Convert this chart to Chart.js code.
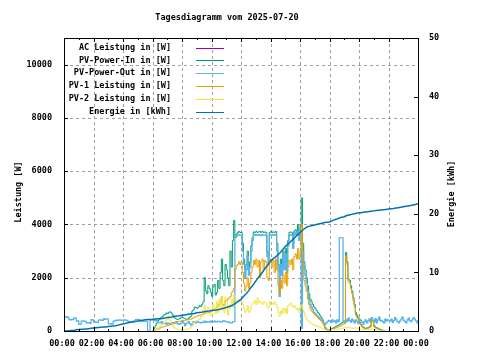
<!DOCTYPE html>
<html><head><meta charset="utf-8">
<script src="https://cdn.jsdelivr.net/npm/chart.js@4.4.1/dist/chart.umd.min.js"></script>
<style>html,body{margin:0;padding:0;background:#fff}canvas{display:block}</style>
</head><body>
<canvas id="c" width="480" height="360"></canvas>
<script>
// ---------- data ----------
const chartTitle = 'Tagesdiagramm vom 2025-07-20';
const xTickValues = [0,2,4,6,8,10,12,14,16,18,20,22,24];
const xTickLabels = ['00:00','02:00','04:00','06:00','08:00','10:00','12:00','14:00','16:00','18:00','20:00','22:00','00:00'];
const leftTicks = [0,2000,4000,6000,8000,10000];
const rightTicks = [0,10,20,30,40,50];
const seriesNames = ['AC Leistung in [W]','PV-Power-In in [W]','PV-Power-Out in [W]','PV-1 Leistung in [W]','PV-2 Leistung in [W]','Energie in [kWh]'];
const N = null;

// sampling grids
const pvStartHour = 6;      // PV series: 5-minute samples from 06:00 to 22:00
const pvStepMin = 5;
const outStepMin = 5;       // PV-Power-Out: 5-minute samples, full day
const energyStepMin = 10;   // Energie: 10-minute samples, full day

// PV-Power-In [W], 06:00..22:00, one row per hour
const pvPowerIn = [
 0,100,200,300,380,420,480,520,560,600,620,680,
 650,700,720,680,600,520,480,450,430,450,470,520,
 500,480,460,440,450,480,520,560,750,800,900,880,
 850,900,950,920,1000,1100,2000,1500,1400,1700,1600,1450,
 1300,1650,1750,1350,1450,1900,1600,2200,2700,1900,1700,2500,
 2300,2000,1700,3000,2400,3400,4150,3500,3650,3700,3740,3700,
 3700,3300,2700,2300,2500,3000,2400,2600,3200,3500,3720,3700,
 3740,3700,3720,3740,3700,3740,3700,3720,3700,3000,2800,3700,
 3740,3700,3720,3700,3740,3300,2500,2200,2700,2400,3000,2600,
 3100,2500,3400,3700,3720,3700,3300,3750,3800,3700,4000,3600,
 3900,5000,3300,2600,2300,2000,1700,1400,1200,1100,1000,900,
 850,780,700,650,580,500,420,300,150,80,50,40,
 60,80,100,120,150,180,200,220,250,280,320,350,
 350,2950,2600,1950,1900,1700,1500,1250,1000,700,600,500,
 350,250,180,150,120,100,110,130,150,200,500,400,
 200,150,120,100,80,60,40,30,15,0,N,N,
 N];

// PV-1 Leistung [W], 06:00..22:00
const pv1Power = [
 0,20,40,60,80,100,120,140,150,160,180,190,
 200,215,230,250,280,300,320,340,350,360,370,375,
 380,390,400,410,420,425,430,450,470,500,520,540,
 560,580,600,610,620,640,650,700,700,680,700,720,
 750,780,800,850,900,950,1000,1100,1300,1000,950,1150,
 1150,1200,1250,1300,1450,1500,1600,2300,2450,2500,2600,2500,
 2600,2200,1800,1500,1700,2000,1600,1800,2200,2400,2650,2500,
 2700,2400,2650,2000,2600,2700,2300,2650,2600,2000,1900,2600,
 2700,2400,2650,2200,2700,2300,1700,1400,1900,1600,2100,1800,
 2200,1700,2400,2650,2500,2700,2300,2800,2900,2700,3100,2700,
 3000,4000,2500,1900,1700,1500,1200,1000,850,750,700,650,
 600,550,500,450,420,380,300,200,100,50,30,20,
 40,60,70,90,100,120,140,160,180,200,230,260,
 280,2830,2500,1850,1800,1600,1400,1150,900,600,500,450,
 300,220,150,120,90,70,80,100,120,160,430,350,
 150,110,90,70,50,40,25,20,10,0,N,N,
 N];

// PV-2 Leistung [W], 06:00..22:00
const pv2Power = [
 0,30,60,100,130,150,200,220,250,300,350,420,
 450,480,400,300,200,150,100,80,60,60,50,50,
 50,60,60,70,70,80,100,150,200,300,350,380,
 380,420,450,600,550,800,950,700,650,900,800,600,
 600,1000,900,650,1100,700,1200,800,1300,900,700,1250,
 1100,600,800,1000,1200,900,1350,1150,1150,1150,1100,1180,
 1100,1000,850,700,750,950,700,750,950,1050,1050,1150,
 1000,1250,1050,1100,1050,1000,1100,1050,1050,900,850,1100,
 1000,1050,1000,1100,1000,900,700,550,750,650,850,700,
 850,650,950,1000,1050,950,900,950,850,800,850,700,
 900,1000,800,700,550,450,400,350,300,280,250,220,
 200,180,160,150,140,120,100,70,50,30,30,30,
 40,45,50,55,60,65,70,75,80,90,100,110,
 120,120,130,130,120,110,110,100,110,120,100,90,
 80,70,60,50,50,50,55,60,65,70,80,60,
 50,40,35,30,25,20,15,10,5,0,N,N,
 N];

// AC Leistung [W], 06:00..22:00 (mostly hidden under PV-Power-Out)
const acPower = [
 405,430,380,400,330,300,300,350,280,300,300,250,
 300,280,250,300,320,280,300,350,280,250,270,300,
 380,300,200,280,300,350,280,220,250,350,320,300,
 350,330,320,300,330,320,370,330,350,340,330,370,
 330,350,370,340,340,360,360,340,340,380,380,350,
 350,330,330,300,300,350,350,3550,3550,3720,3620,3600,
 3600,3000,2500,2000,2300,2800,2100,2400,3000,3400,3620,3600,
 3620,3600,3620,3600,3580,3620,3600,3600,3580,2800,2500,3600,
 3620,3600,3620,3600,3620,3000,2300,1300,2500,2100,2800,2300,
 2900,2200,3200,3600,3620,3600,3100,3620,3700,3600,3750,3400,
 3700,100,3000,2400,2100,1800,1500,1200,1000,900,800,700,
 650,600,550,500,450,400,350,300,250,300,350,400,
 380,320,420,350,380,300,420,350,3500,3500,3500,380,
 300,420,350,480,400,330,450,380,300,420,360,280,
 450,400,330,250,350,420,300,380,450,320,500,400,
 350,470,300,420,520,380,400,350,300,450,380,420,
 400];

// PV-Power-Out [W], 00:00..24:00, one row per hour
const pvPowerOut = [
 530,520,540,500,430,420,440,430,495,480,370,380,
 245,260,370,380,370,360,305,320,305,290,430,420,
 330,340,330,320,410,420,410,400,455,440,455,460,
 270,280,270,260,370,380,410,400,410,420,410,400,
 410,420,410,400,345,350,345,340,370,380,430,440,
 430,420,370,360,370,380,370,360,0,0,405,410,
 405,430,380,400,330,300,300,350,280,300,300,250,
 300,280,250,300,320,280,300,350,280,250,270,300,
 380,300,200,280,300,350,280,220,250,350,320,300,
 350,330,320,300,330,320,370,330,350,340,330,370,
 330,350,370,340,340,360,360,340,340,380,380,350,
 350,330,330,300,300,350,350,3550,3550,3600,3620,3600,
 3600,3000,2500,2000,2300,2800,2100,2400,3000,3400,3620,3600,
 3620,3600,3620,3600,3580,3620,3600,3600,3580,2800,2500,3600,
 3620,3600,3620,3600,3620,3000,2300,1300,2500,2100,2800,2300,
 2900,2200,3200,3600,3620,3600,3100,3620,3700,3600,3750,3400,
 3700,100,3000,2400,2100,1800,1500,1200,1000,900,800,700,
 650,600,550,500,450,400,350,300,250,300,350,400,
 380,320,420,350,380,300,420,350,3500,3500,3500,380,
 300,420,350,480,400,330,450,380,300,420,360,280,
 450,400,330,250,350,420,300,380,450,320,500,400,
 350,470,300,420,520,380,400,350,300,450,380,420,
 400,380,450,320,400,500,420,350,300,380,450,520,
 400,350,300,420,480,380,350,420,500,450,380,300,
 400];

// Energie [kWh], 00:00..24:00, 10-minute samples, one row per 2 hours
const energyKWh = [
 0,0,0.05,0.1,0.1,0.2,0.25,0.3,0.3,0.35,0.4,0.45,
 0.5,0.55,0.6,0.65,0.7,0.7,0.75,0.8,0.85,0.9,1.0,1.1,
 1.2,1.3,1.4,1.5,1.55,1.6,1.7,1.8,1.85,1.9,1.95,1.96,
 2.0,2.05,2.1,2.1,2.15,2.2,2.3,2.35,2.4,2.5,2.55,2.6,
 2.7,2.75,2.8,2.9,2.95,3.0,3.1,3.15,3.2,3.3,3.35,3.4,
 3.5,3.55,3.6,3.66,3.75,3.9,4.0,4.15,4.3,4.5,4.8,5.1,
 5.4,5.9,6.3,6.8,7.4,7.9,8.5,9.1,9.6,10.2,10.8,11.3,
 11.9,12.3,12.6,13.0,13.4,13.9,14.4,14.8,15.2,15.6,16.0,16.4,
 16.8,17.2,17.5,17.8,17.9,18.0,18.1,18.2,18.3,18.4,18.5,18.55,
 18.6,18.8,19.0,19.1,19.3,19.4,19.5,19.7,19.8,19.9,20.0,20.1,
 20.2,20.2,20.3,20.3,20.4,20.45,20.5,20.55,20.6,20.65,20.7,20.75,
 20.8,20.85,20.9,21.0,21.05,21.1,21.2,21.3,21.35,21.4,21.5,21.6,
 21.7];

// ---------- styling ----------
const colors = ['#9400d3','#009e73','#56b4e9','#e69f00','#f0e442','#0072b2'];
const lineColors = ['rgba(148,0,211,0.25)','#009e73','#56b4e9','#e69f00','#f0e442','#0072b2'];
const widths = [0.6, 1, 1.2, 1, 1, 1.5];
const FONT = '"DejaVu Sans Mono", monospace';
const FS = 8.5;
const FW = 'bold';

const toPoints = (arr, startHour, stepMin) => arr.map((v,i)=>({x: startHour + i*stepMin/60, y: v}));

const seriesDefs = [
  {data: toPoints(acPower, pvStartHour, pvStepMin), axis: 'y'},
  {data: toPoints(pvPowerIn, pvStartHour, pvStepMin), axis: 'y'},
  {data: toPoints(pvPowerOut, 0, outStepMin), axis: 'y'},
  {data: toPoints(pv1Power, pvStartHour, pvStepMin), axis: 'y'},
  {data: toPoints(pv2Power, pvStartHour, pvStepMin), axis: 'y'},
  {data: toPoints(energyKWh, 0, energyStepMin), axis: 'y2'}
];

const datasets = seriesDefs.map((d,k)=>({
  label: seriesNames[k],
  data: d.data,
  borderColor: lineColors[k],
  backgroundColor: colors[k],
  borderWidth: widths[k],
  pointRadius: 0,
  stepped: k===5 ? false : true,
  fill: false,
  yAxisID: d.axis,
  order: 6-k
}));

const gnuplotLook = {
  id: 'gnuplotLook',
  beforeDatasetsDraw(chart){
    const {ctx, chartArea:a, scales} = chart;
    ctx.save();
    ctx.strokeStyle = '#a0a0a0';
    ctx.lineWidth = 1;
    ctx.setLineDash([3,3]);
    ctx.beginPath();
    xTickValues.slice(1,-1).forEach(v=>{
      const px = Math.round(scales.x.getPixelForValue(v))+0.5;
      ctx.moveTo(px,a.top); ctx.lineTo(px,a.bottom);
    });
    leftTicks.slice(1).forEach(v=>{
      const py = Math.round(scales.y.getPixelForValue(v))+0.5;
      ctx.moveTo(a.left,py); ctx.lineTo(a.right,py);
    });
    ctx.stroke();
    ctx.restore();
  },
  afterDatasetsDraw(chart){
    const {ctx, chartArea:a, scales} = chart;
    ctx.save();
    ctx.strokeStyle = '#000';
    ctx.lineWidth = 1;
    ctx.setLineDash([]);
    ctx.beginPath();
    leftTicks.forEach(v=>{
      const py = Math.round(scales.y.getPixelForValue(v))+0.5;
      ctx.moveTo(a.left,py); ctx.lineTo(a.left+4,py);
    });
    rightTicks.forEach(v=>{
      const py = Math.round(scales.y2.getPixelForValue(v))+0.5;
      ctx.moveTo(a.right,py); ctx.lineTo(a.right-4,py);
    });
    for (let h=0; h<=24; h++){
      const px = Math.round(scales.x.getPixelForValue(h))+0.5;
      const len = h%2===0 ? 4 : 2;
      ctx.moveTo(px,a.bottom); ctx.lineTo(px,a.bottom-len);
      ctx.moveTo(px,a.top); ctx.lineTo(px,a.top+len);
    }
    ctx.stroke();
    ctx.strokeRect(Math.round(a.left)+0.5, Math.round(a.top)+0.5, Math.round(a.right-a.left), Math.round(a.bottom-a.top));

    ctx.fillStyle = '#000';
    ctx.font = FW+' '+FS+'px '+FONT;
    ctx.textAlign = 'center';
    ctx.textBaseline = 'middle';
    ctx.fillText(chartTitle, 227, 17.5);

    ctx.save();
    ctx.translate(19, 192);
    ctx.rotate(-Math.PI/2);
    ctx.fillText('Leistung [W]', 0, 0);
    ctx.restore();
    ctx.save();
    ctx.translate(452, 194);
    ctx.rotate(-Math.PI/2);
    ctx.fillText('Energie [kWh]', 0, 0);
    ctx.restore();

    ctx.textAlign = 'right';
    seriesNames.forEach((name,k)=>{
      const yy = 47.5 + k*12.8;
      ctx.fillStyle = '#000';
      ctx.fillText(name, 171, yy);
      ctx.strokeStyle = colors[k];
      ctx.lineWidth = 1;
      ctx.beginPath();
      ctx.moveTo(196, Math.round(yy)+0.5);
      ctx.lineTo(224, Math.round(yy)+0.5);
      ctx.stroke();
    });
    ctx.restore();
  }
};

const tickFont = {family: FONT, size: FS, weight: FW};

new Chart(document.getElementById('c'), {
  type: 'line',
  data: {datasets},
  options: {
    responsive: false,
    animation: false,
    devicePixelRatio: 1,
    layout: {padding: {top: 38, left: 0, right: 0, bottom: 0}},
    plugins: {legend: {display: false}, title: {display: false}, tooltip: {enabled: false}},
    scales: {
      x: {
        type: 'linear', position: 'bottom', min: 0, max: 24,
        afterBuildTicks: s => { s.ticks = xTickValues.map(v=>({value:v})); },
        afterFit: s => { s.height = 29; },
        grid: {display: false, drawTicks: false},
        border: {display: false},
        ticks: {autoSkip: false, maxRotation: 0, padding: 8, labelOffset: -2, color: '#000', font: tickFont,
          callback: (v) => xTickLabels[xTickValues.indexOf(v)] }
      },
      y: {
        type: 'linear', position: 'left', min: 0, max: 11000,
        afterBuildTicks: s => { s.ticks = leftTicks.map(v=>({value:v})); },
        afterFit: s => { s.width = 64; },
        grid: {display: false, drawTicks: false},
        border: {display: false},
        ticks: {padding: 12, color: '#000', font: tickFont, callback: v => String(v)}
      },
      y2: {
        type: 'linear', position: 'right', min: 0, max: 50,
        afterBuildTicks: s => { s.ticks = rightTicks.map(v=>({value:v})); },
        afterFit: s => { s.width = 62; },
        grid: {display: false, drawTicks: false},
        border: {display: false},
        ticks: {padding: 11, color: '#000', font: tickFont, callback: v => String(v)}
      }
    }
  },
  plugins: [gnuplotLook]
});
</script>
</body></html>
